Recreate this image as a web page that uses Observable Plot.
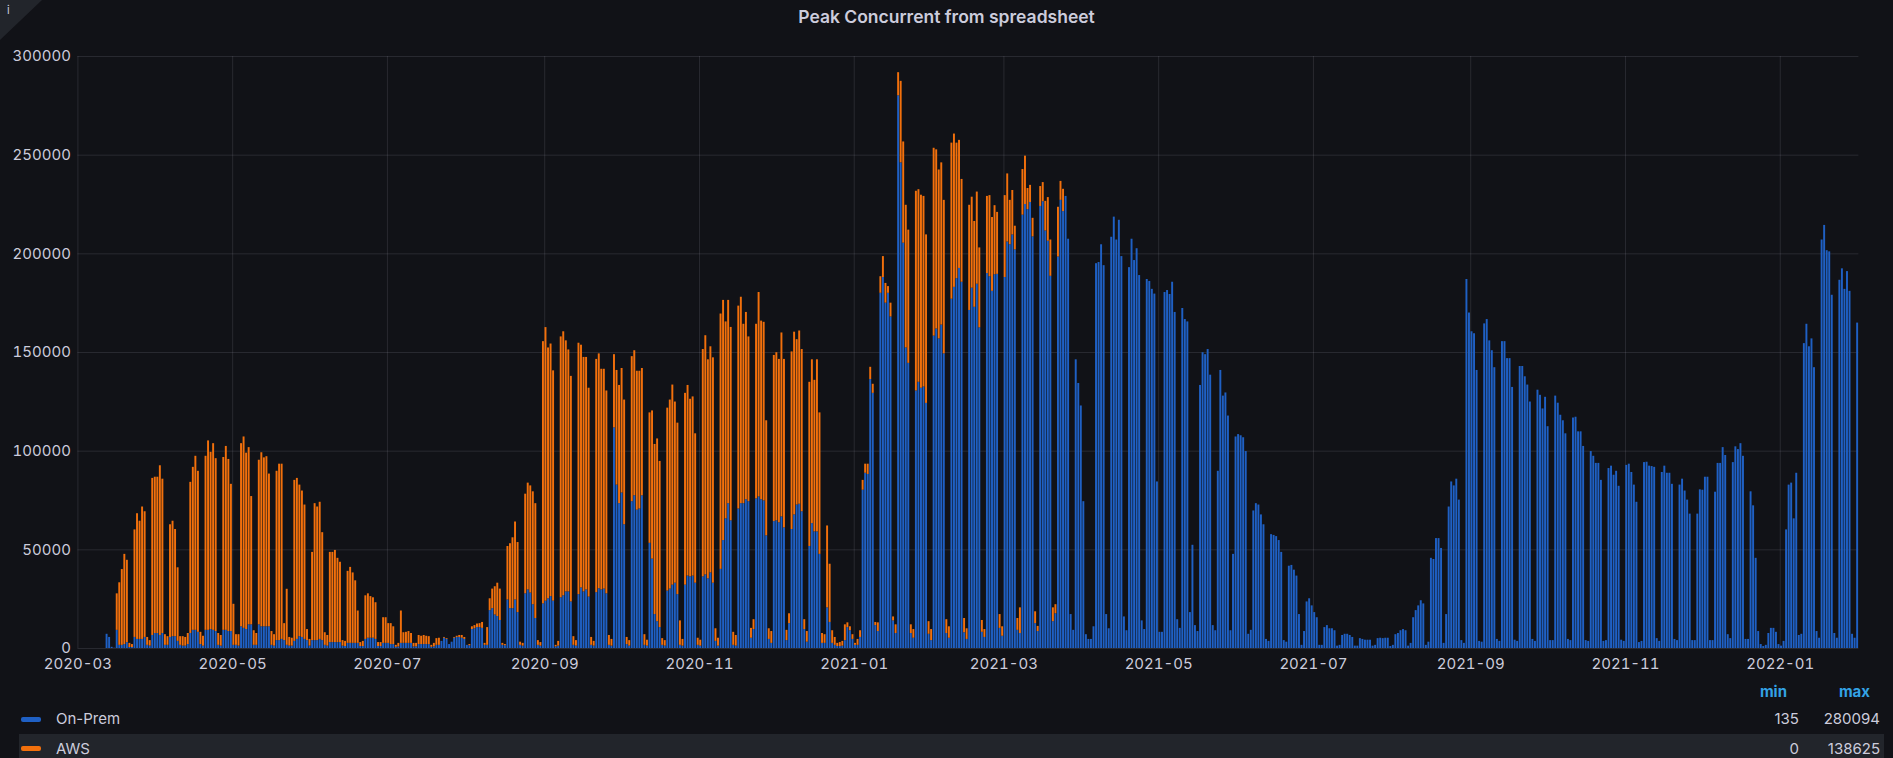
<!DOCTYPE html>
<html>
<head>
<meta charset="utf-8">
<script src="https://cdn.jsdelivr.net/npm/d3@7"></script>
<script src="https://cdn.jsdelivr.net/npm/@observablehq/plot@0.6"></script>
<style>
  html, body { margin: 0; padding: 0; background: #111217; }
  body { font-family: Inter, "Open Sans", sans-serif; color: #ccccdc; }
  #wrap { position: relative; width: 1893px; height: 758px; overflow: hidden; background: #111217; }
  #corner { position: absolute; left: 0; top: 0; width: 42px; height: 40px; background: #22252b;
            clip-path: polygon(0 0, 100% 0, 0 100%); }
  #corner span { position: absolute; left: 7px; top: 3px; font-size: 11px; color: #ccccdc; }
  #title { position: absolute; left: 0; top: 4px; width: 1893px; height: 26px; line-height: 26px;
           text-align: center; font-size: 17.5px; font-weight: 600; color: #ccccdc; }
  #chart { position: absolute; left: 0; top: 40px; }
  .lg { position: absolute; font-size: 15px; line-height: 20px; color: #ccccdc; white-space: nowrap; }
  .hdr { color: #33a2e5; font-weight: 700; }
  .sw { position: absolute; width: 20px; height: 5px; border-radius: 2px; }
  #awsrow { position: absolute; left: 19px; top: 734px; width: 1865px; height: 30px; background: #22252b; }
</style>
</head>
<body>
<div id="wrap">
  <div id="corner"><span>i</span></div>
  <div id="title">Peak Concurrent from spreadsheet</div>
  <div id="chart"></div>
  <div id="legend"></div>
</div>
<script>
// ---- series meta ----
const seriesNames = ["On-Prem", "AWS"];
const seriesColors = ["#1F60C4", "#F2700C"];
const firstDay = "2020-03-12"; // first daily value in both arrays

// ---- daily values, thousands, starting 2020-03-12 ----
const onPremK = [
  7.2, 5.6, 0.6, 0.135,
  9.2, 1.6, 1.6, 2.0, 3.0, 0.5, 0.5,
  5.6, 4.6, 4.6, 4.6, 5.6, 1.6, 1.2,
  6.6, 7.6, 7.6, 6.6, 7.6, 1.6, 1.6,
  5.6, 6.0, 6.0, 3.6, 1.6, 1.2, 1.2,
  2.0, 7.6, 9.2, 9.2, 8.2, 2.0, 1.2,
  9.2, 9.2, 9.6, 9.2, 8.6, 1.6, 1.2,
  9.2, 9.2, 8.6, 8.6, 1.6, 1.6, 1.2,
  11.0, 10.2, 9.6, 12.0, 12.0, 1.6, 1.6,
  12.0, 11.0, 11.0, 11.0, 11.0, 1.6, 1.2,
  4.0, 4.0, 4.6, 4.0, 1.6, 1.2, 1.2,
  3.6, 4.6, 6.0, 5.6, 4.6, 4.0, 1.2,
  4.0, 4.0, 4.0, 4.6, 4.0, 1.6, 1.2,
  3.0, 3.0, 3.0, 3.0, 3.0, 1.2, 1.0,
  2.6, 2.6, 2.6, 2.6, 2.6, 1.0, 1.0,
  4.6, 5.2, 5.2, 5.2, 4.6, 1.0, 1.0,
  2.6, 2.6, 2.6, 2.0, 2.0, 0.6, 0.8,
  2.6, 2.6, 2.6, 2.6, 2.6, 0.8, 0.8,
  2.0, 2.0, 2.0, 2.0, 2.0, 0.6, 0.8,
  1.6, 1.6, 3.6, 5.2, 4.6, 2.0, 3.2,
  5.2, 5.6, 5.6, 5.2, 4.6, 1.6, 1.4,
  9.6, 10.0, 10.6, 10.6, 10.2, 1.6, 1.6,
  19.2, 20.2, 17.0, 16.2, 14.2, 1.6, 1.4,
  24.6, 20.2, 20.2, 24.6, 18.2, 1.6, 1.2,
  27.7, 29.7, 28.1, 22.2, 15.2, 1.6, 1.2,
  22.6, 24.0, 25.2, 26.3, 24.0, 0.8, 1.2,
  25.7, 26.7, 28.7, 28.7, 23.6, 1.6, 1.2,
  27.3, 30.7, 28.7, 29.7, 26.1, 1.6, 1.2,
  28.3, 30.3, 29.7, 30.1, 27.7, 1.6, 1.2,
  111.8, 82.8, 73.4, 78.8, 62.7, 2.0, 1.2,
  74.4, 77.4, 70.1, 70.7, 77.4, 1.6, 1.2,
  53.3, 45.3, 17.2, 13.6, 10.6, 1.6, 1.2,
  29.1, 30.1, 32.1, 33.1, 27.3, 1.6, 1.2,
  32.1, 36.7, 36.3, 36.7, 33.1, 1.6, 1.2,
  36.3, 37.3, 35.3, 38.3, 33.1, 3.6, 1.2,
  40.1, 54.7, 65.7, 73.4, 64.7, 1.6, 1.2,
  70.7, 73.4, 73.4, 75.4, 74.4, 5.2, 9.6,
  75.8, 76.8, 75.4, 74.8, 57.1, 4.6, 2.6,
  64.3, 64.7, 63.7, 66.7, 61.1, 4.0, 12.6,
  60.3, 67.7, 72.7, 73.1, 69.3, 9.6, 3.2,
  51.7, 63.3, 59.1, 59.1, 47.7, 2.6, 2.6,
  20.6, 13.2, 2.6, 1.6, 1.0, 1.0, 1.2,
  4.0, 10.6, 9.0, 4.6, 1.6, 1.6, 5.6,
  80.2, 88.8, 88.2, 136.3, 129.3, 11.6, 8.6,
  180.0, 188.0, 175.0, 180.0, 168.0, 14.0, 7.6,
  280.094, 246.1, 205.4, 152.3, 144.5, 7.6, 5.2,
  130.5, 134.9, 131.9, 132.5, 124.2, 7.2, 4.0,
  158.3, 161.9, 156.9, 163.9, 149.3, 7.6, 5.2,
  177.0, 183.0, 187.4, 192.6, 185.6, 8.0, 4.6,
  171.3, 182.6, 172.9, 184.6, 162.5, 8.2, 5.6,
  190.0, 188.4, 181.0, 189.4, 189.6, 10.2, 6.2,
  188.0, 206.0, 204.6, 209.6, 202.0, 9.2, 7.6,
  219.6, 225.0, 222.4, 226.0, 208.6, 12.6, 8.6,
  224.0, 226.4, 211.6, 206.4, 188.6, 13.6, 17.6,
  198.4, 227.1, 221.4, 229.1, 207.4, 17.2, 9.2,
  146.3, 134.3, 122.9, 74.4, 7.0, 4.6, 4.6,
  11.0, 195.0, 195.6, 204.6, 194.0, 17.2, 10.0,
  208.4, 218.6, 207.0, 217.0, 198.6, 16.0, 9.0,
  193.0, 207.4, 196.6, 202.6, 189.0, 14.0, 9.6,
  187.0, 186.0, 182.0, 179.6, 84.4, 8.2, 8.2,
  180.4, 181.4, 179.4, 185.6, 170.3, 14.6, 10.2,
  172.3, 166.7, 165.5, 18.2, 52.3, 11.6, 8.6,
  133.3, 149.9, 148.9, 151.5, 138.5, 11.6, 9.0,
  89.8, 140.9, 127.9, 129.5, 117.8, 9.0, 47.7,
  107.2, 108.4, 107.8, 106.8, 99.8, 7.2, 9.2,
  69.7, 73.4, 72.7, 67.7, 62.7, 4.6, 3.6,
  57.7, 57.3, 56.7, 54.7, 48.7, 4.0, 3.2,
  41.7, 42.1, 39.7, 36.7, 17.2, 1.6, 8.6,
  23.6, 25.2, 21.6, 18.2, 15.6, 1.6, 1.6,
  10.6, 11.6, 10.0, 10.0, 9.0, 1.2, 1.6,
  6.6, 7.2, 7.2, 6.6, 5.6, 1.2, 1.2,
  5.0, 4.6, 4.2, 4.2, 4.2, 1.2, 1.6,
  5.0, 5.2, 5.0, 5.2, 5.2, 1.0, 1.6,
  7.0, 7.6, 9.0, 9.6, 9.0, 1.2, 2.6,
  15.6, 19.2, 21.6, 24.2, 22.6, 1.6, 3.2,
  45.7, 45.1, 55.7, 55.7, 50.7, 2.6, 17.2,
  71.7, 84.4, 82.4, 85.8, 75.2, 4.0, 2.6,
  187.0, 170.0, 160.5, 159.5, 140.9, 3.6, 3.2,
  164.5, 166.7, 155.9, 150.9, 142.3, 4.6, 3.6,
  155.5, 155.5, 146.9, 146.9, 132.3, 4.2, 3.6,
  142.9, 142.9, 137.7, 133.5, 124.9, 4.6, 3.6,
  130.9, 128.3, 121.4, 127.3, 112.4, 4.0, 4.0,
  127.9, 124.3, 118.2, 115.4, 108.8, 4.6, 4.0,
  116.8, 117.2, 109.8, 109.8, 102.4, 4.0, 3.6,
  99.8, 97.4, 93.8, 93.8, 85.2, 3.6, 4.0,
  91.2, 92.4, 87.8, 89.8, 82.2, 4.2, 3.6,
  92.8, 93.4, 89.2, 82.8, 74.1, 3.0, 3.6,
  94.2, 94.4, 92.4, 92.2, 91.8, 5.0, 3.6,
  89.2, 92.4, 88.8, 88.8, 83.2, 4.6, 4.0,
  82.8, 85.8, 79.8, 75.2, 68.1, 4.0, 4.0,
  68.1, 80.4, 80.2, 86.8, 86.8, 4.0, 4.0,
  79.2, 93.8, 93.8, 101.8, 97.8, 7.0, 5.0,
  94.2, 102.2, 100.8, 103.8, 97.4, 4.6, 4.6,
  79.4, 72.3, 45.7, 8.6, 2.0, 1.0, 1.6,
  7.6, 10.2, 10.2, 8.2, 2.0, 1.2, 3.6,
  60.1, 82.8, 83.8, 65.7, 88.8, 6.6, 7.2,
  154.5, 164.3, 152.9, 156.9, 142.3, 8.6, 5.2,
  207.0, 214.4, 201.6, 201.0, 179.0, 7.6, 5.2,
  186.6, 192.4, 182.0, 191.0, 181.0, 7.2, 5.2,
  164.9
];

const awsK = [
  0, 0, 0, 0,
  18.5, 31.7, 38.4, 45.7, 41.7, 2.1, 1.5,
  54.5, 63.7, 59.9, 67.1, 63.7, 4.0, 2.8,
  79.6, 79.2, 79.2, 86.0, 78.2, 5.4, 4.4,
  57.1, 58.5, 54.3, 37.3, 4.4, 4.8, 4.4,
  5.6, 76.6, 82.6, 88.2, 81.6, 6.2, 5.0,
  88.2, 96.0, 89.8, 94.6, 87.6, 6.0, 5.4,
  87.6, 93.2, 87.2, 74.6, 20.8, 5.4, 5.8,
  92.8, 97.0, 89.4, 89.8, 65.0, 7.4, 6.0,
  83.4, 88.2, 85.6, 86.2, 77.4, 7.0, 5.8,
  85.8, 89.4, 88.8, 8.6, 28.4, 4.4, 4.0,
  81.6, 81.6, 76.8, 74.2, 68.1, 5.6, 3.4,
  44.7, 69.4, 67.7, 69.5, 54.7, 6.4, 5.4,
  45.7, 45.7, 46.7, 42.7, 40.7, 2.8, 2.6,
  36.5, 38.5, 35.7, 31.7, 16.4, 2.0, 2.6,
  22.1, 22.5, 21.1, 20.5, 18.6, 2.0, 2.0,
  13.0, 13.0, 10.0, 10.6, 9.0, 1.0, 1.8,
  16.4, 5.4, 5.6, 6.0, 5.0, 1.8, 1.8,
  4.6, 4.2, 4.6, 4.2, 4.0, 1.0, 1.8,
  3.4, 3.6, 0, 0.4, 0.4, 0, 0,
  0.4, 0.6, 1.0, 1.4, 1.0, 0, 0.6,
  1.4, 1.6, 1.8, 2.0, 3.0, 1.0, 9.0,
  6.0, 9.9, 14.3, 16.9, 15.9, 1.0, 0.6,
  27.1, 32.9, 35.9, 39.5, 35.5, 1.6, 1.4,
  50.5, 54.1, 54.3, 57.2, 58.2, 2.4, 1.8,
  132.9, 138.625, 127.1, 128.0, 116.7, 0.8, 2.4,
  132.2, 133.8, 127.2, 122.6, 114.3, 4.4, 2.8,
  127.4, 123.0, 118.8, 117.8, 105.8, 4.0, 2.4,
  118.2, 119.0, 111.8, 111.4, 102.8, 5.0, 3.4,
  37.1, 58.1, 59.9, 63.1, 63.2, 3.6, 2.8,
  73.5, 73.5, 70.4, 69.8, 64.5, 5.4, 3.0,
  66.1, 75.1, 86.2, 92.6, 84.2, 3.4, 2.8,
  92.7, 95.8, 101.4, 91.8, 86.9, 12.4, 3.4,
  97.2, 96.6, 90.0, 90.8, 75.7, 3.6, 3.0,
  115.2, 121.2, 111.0, 114.6, 114.2, 6.4, 4.0,
  129.4, 121.7, 99.8, 103.0, 98.0, 6.6, 5.4,
  102.8, 104.6, 90.9, 94.9, 83.5, 5.0, 5.0,
  88.5, 103.6, 90.5, 90.5, 58.3, 5.4, 6.0,
  84.2, 85.2, 82.8, 93.2, 85.4, 5.2, 5.0,
  90.0, 92.6, 83.8, 87.8, 82.2, 5.0, 5.4,
  83.2, 83.0, 76.8, 87.2, 71.7, 5.0, 4.4,
  41.5, 29.5, 6.4, 4.0, 1.6, 2.0, 2.4,
  8.0, 2.4, 2.0, 2.4, 1.0, 3.0, 3.4,
  5.0, 4.6, 5.2, 6.2, 4.6, 1.6, 4.4,
  8.4, 10.6, 10.0, 3.4, 7.0, 2.0, 4.4,
  11.7, 41.3, 51.3, 72.3, 67.5, 4.4, 4.4,
  101.2, 97.6, 97.8, 96.6, 85.4, 6.4, 5.6,
  95.2, 90.8, 85.6, 82.2, 77.8, 7.0, 5.8,
  79.1, 77.7, 68.7, 64.9, 52.1, 7.2, 5.4,
  53.3, 46.1, 43.5, 46.7, 40.5, 6.0, 4.0,
  39.1, 41.1, 37.4, 35.0, 31.4, 7.0, 4.8,
  41.5, 34.5, 22.5, 22.5, 12.0, 6.0, 13.0,
  23.1, 24.5, 10.7, 8.7, 9.4, 6.0, 2.6,
  10.1, 9.7, 15.0, 22.1, 18.4, 7.0, 4.6,
  25.2, 9.6, 11.3, 0, 0, 0, 0
];

// ---- axes ----
const xTickLabels = ["2020-03","2020-05","2020-07","2020-09","2020-11","2021-01",
                     "2021-03","2021-05","2021-07","2021-09","2021-11","2022-01"];
const yTicks = [0, 50000, 100000, 150000, 200000, 250000, 300000];
const xDomain = ["2020-03-01", "2022-02-01"];

// ---- build table ----
const start = new Date(firstDay + "T00:00:00Z");
const rows = [];
onPremK.forEach((v, i) => rows.push({date: d3.utcDay.offset(start, i), series: seriesNames[0], value: Math.round(v * 1000)}));
awsK.forEach((v, i) => rows.push({date: d3.utcDay.offset(start, i), series: seriesNames[1], value: Math.round(v * 1000)}));

const xTicks = xTickLabels.map(s => new Date(s + "-01T00:00:00Z"));

const chart = Plot.plot({
  width: 1893,
  height: 650,
  marginLeft: 77.4,
  marginRight: 34.6,
  marginTop: 16,
  marginBottom: 42,
  style: {background: "transparent", color: "#ccccdc", fontFamily: "Inter, sans-serif", fontSize: "15px"},
  x: {type: "utc", domain: xDomain.map(s => new Date(s + "T00:00:00Z")), label: null},
  y: {domain: [0, 300000], label: null},
  color: {domain: seriesNames, range: seriesColors},
  marks: [
    Plot.gridY(yTicks, {stroke: "#ccccdc", strokeOpacity: 0.13, strokeWidth: 1}),
    Plot.gridX(xTicks, {stroke: "#ccccdc", strokeOpacity: 0.13, strokeWidth: 1}),
    Plot.rectY(rows, {x: "date", interval: d3.utcDay, y: "value", fill: "series", insetLeft: 0.3, insetRight: 0.3}),
    Plot.axisY(yTicks, {tickSize: 0, tickPadding: 7, tickFormat: d3.format("d"), label: null, fill: "#ccccdc"}),
    Plot.axisX(xTicks, {tickSize: 0, tickPadding: 10, tickFormat: d3.utcFormat("%Y-%m"), label: null, fill: "#ccccdc"})
  ]
});
document.getElementById("chart").appendChild(chart);

// ---- legend (min / max computed from the series arrays) ----
const lg = document.getElementById("legend");
const stats = seriesNames.map((name, k) => {
  const arr = (k === 0 ? onPremK : awsK).map(v => Math.round(v * 1000));
  return {name, color: seriesColors[k], min: d3.min(arr), max: d3.max(arr)};
});
let html = '<div id="awsrow"></div>';
html += '<div class="lg hdr" style="right:' + (1893 - 1787) + 'px; top:682px;">min</div>';
html += '<div class="lg hdr" style="right:' + (1893 - 1870) + 'px; top:682px;">max</div>';
const rowY = [719, 748.5];
stats.forEach((s, k) => {
  const cy = rowY[k];
  html += '<div class="sw" style="left:21px; top:' + (cy - 2.5) + 'px; background:' + s.color + ';"></div>';
  html += '<div class="lg" style="left:56px; top:' + (cy - 10) + 'px;">' + s.name + '</div>';
  html += '<div class="lg" style="right:' + (1893 - 1799) + 'px; top:' + (cy - 10) + 'px;">' + s.min + '</div>';
  html += '<div class="lg" style="right:' + (1893 - 1880) + 'px; top:' + (cy - 10) + 'px;">' + s.max + '</div>';
});
lg.innerHTML = html;
</script>
</body>
</html>
